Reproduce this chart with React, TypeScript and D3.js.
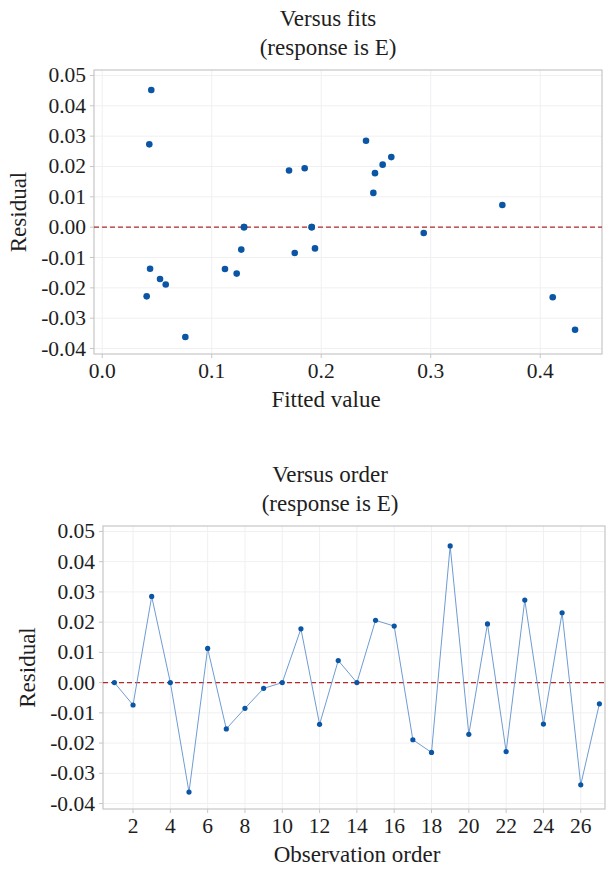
import React from "react";
import * as d3 from "d3";

const observations = [1,2,3,4,5,6,7,8,9,10,11,12,13,14,15,16,17,18,19,20,21,22,23,24,25,26,27];
const fittedValues = [0.1295,0.127,0.2409,0.1913,0.0759,0.2476,0.1228,0.1758,0.2936,0.1295,0.2491,0.1121,0.3654,0.1913,0.2561,0.1706,0.058,0.4114,0.0448,0.0528,0.1849,0.0406,0.043,0.0437,0.264,0.4318,0.1943];
const residuals = [0.0,-0.0074,0.0285,0.0,-0.0362,0.0113,-0.0153,-0.0085,-0.0019,0.0,0.0178,-0.0138,0.0073,0.0,0.0206,0.0187,-0.0189,-0.0231,0.0452,-0.0171,0.0194,-0.0228,0.0273,-0.0137,0.0231,-0.0338,-0.007];
const residualTicks = [0.05,0.04,0.03,0.02,0.01,0,-0.01,-0.02,-0.03,-0.04];
const fitTicks = [0,0.1,0.2,0.3,0.4];
const orderTicks = [2,4,6,8,10,12,14,16,18,20,22,24,26];

const FONT = "'Liberation Serif', 'DejaVu Serif', serif";
const FRAME = "#c6c6c6";
const GRID = "#f0f0f2";
const PT = "#0b55a5";
const LINE = "#6f9cd3";
const REF = "#b02a2a";
const TXT = "#1e1e1e";

type PanelProps = {
  x0: number; x1: number; y0: number; y1: number;
  xDomain: [number, number]; xTicks: number[]; xFmt: (v: number) => string;
  title: string; titleX: number; xLabel: string; xLabelX: number; xLabelY: number;
  yLabelX: number; connect: boolean; xs: number[]; r: number;
};

function Panel(p: PanelProps) {
  const xs = d3.scaleLinear().domain(p.xDomain).range([p.x0, p.x1]);
  const ys = d3.scaleLinear().domain([-0.0418, 0.0518]).range([p.y1, p.y0]);
  const pts = p.xs.map((v, i) => [xs(v), ys(residuals[i])] as [number, number]);
  const line = d3.line()(pts) || "";
  const yFmt = (v: number) => d3.format(".2f")(v).replace("\u2212", "-");
  return (
    <g>
      <text x={p.titleX} y={p.y0 - 44} textAnchor="middle" fontSize={23} fontFamily={FONT} fill={TXT}>{p.title}</text>
      <text x={p.titleX} y={p.y0 - 15} textAnchor="middle" fontSize={23} fontFamily={FONT} fill={TXT}>(response is E)</text>
      {residualTicks.map((t) => (
        <line key={"gy" + t} x1={p.x0} x2={p.x1} y1={ys(t)} y2={ys(t)} stroke={GRID} strokeWidth={1} />
      ))}
      {p.xTicks.map((t) => (
        <line key={"gx" + t} x1={xs(t)} x2={xs(t)} y1={p.y0} y2={p.y1} stroke={GRID} strokeWidth={1} />
      ))}
      <rect x={p.x0} y={p.y0} width={p.x1 - p.x0} height={p.y1 - p.y0} fill="none" stroke={FRAME} strokeWidth={1.2} />
      {residualTicks.map((t) => (
        <g key={"ty" + t}>
          <line x1={p.x0 - 4} x2={p.x0} y1={ys(t)} y2={ys(t)} stroke={FRAME} />
          <text x={p.x0 - 8} y={ys(t) + 7} textAnchor="end" fontSize={21.5} fontFamily={FONT} fill={TXT}>{yFmt(t)}</text>
        </g>
      ))}
      {p.xTicks.map((t) => (
        <g key={"tx" + t}>
          <line x1={xs(t)} x2={xs(t)} y1={p.y1} y2={p.y1 + 4} stroke={FRAME} />
          <text x={xs(t)} y={p.y1 + 24} textAnchor="middle" fontSize={21.5} fontFamily={FONT} fill={TXT}>{p.xFmt(t)}</text>
        </g>
      ))}
      <line x1={p.x0} x2={p.x1} y1={ys(0)} y2={ys(0)} stroke={REF} strokeWidth={1.2} strokeDasharray="5,3" />
      {p.connect && <path d={line} fill="none" stroke={LINE} strokeWidth={1} />}
      {pts.map((q, i) => (
        <circle key={i} cx={q[0]} cy={q[1]} r={p.r} fill={PT} />
      ))}
      <text x={p.xLabelX} y={p.xLabelY} textAnchor="middle" fontSize={23} fontFamily={FONT} fill={TXT}>{p.xLabel}</text>
      <text transform={`translate(${p.yLabelX},${(p.y0 + p.y1) / 2}) rotate(-90)`} textAnchor="middle" fontSize={23} fontFamily={FONT} fill={TXT}>Residual</text>
    </g>
  );
}

export default function App() {
  return (
    <div style={{ position: "absolute", left: 0, top: 0 }}>
      <svg width={607} height={870} style={{ display: "block", background: "#fff" }}>
        <Panel x0={94} x1={602} y0={70} y1={354} xDomain={[-0.0075, 0.4564]} xTicks={fitTicks}
          xFmt={d3.format(".1f")} title="Versus fits" titleX={328} xLabel="Fitted value" xLabelX={326} xLabelY={407}
          yLabelX={26} connect={false} xs={fittedValues} r={3.3} />
        <Panel x0={103} x1={605} y0={526} y1={809} xDomain={[0.39, 27.3]} xTicks={orderTicks}
          xFmt={d3.format("d")} title="Versus order" titleX={330} xLabel="Observation order" xLabelX={357} xLabelY={862}
          yLabelX={35} connect={true} xs={observations} r={2.6} />
      </svg>
    </div>
  );
}
